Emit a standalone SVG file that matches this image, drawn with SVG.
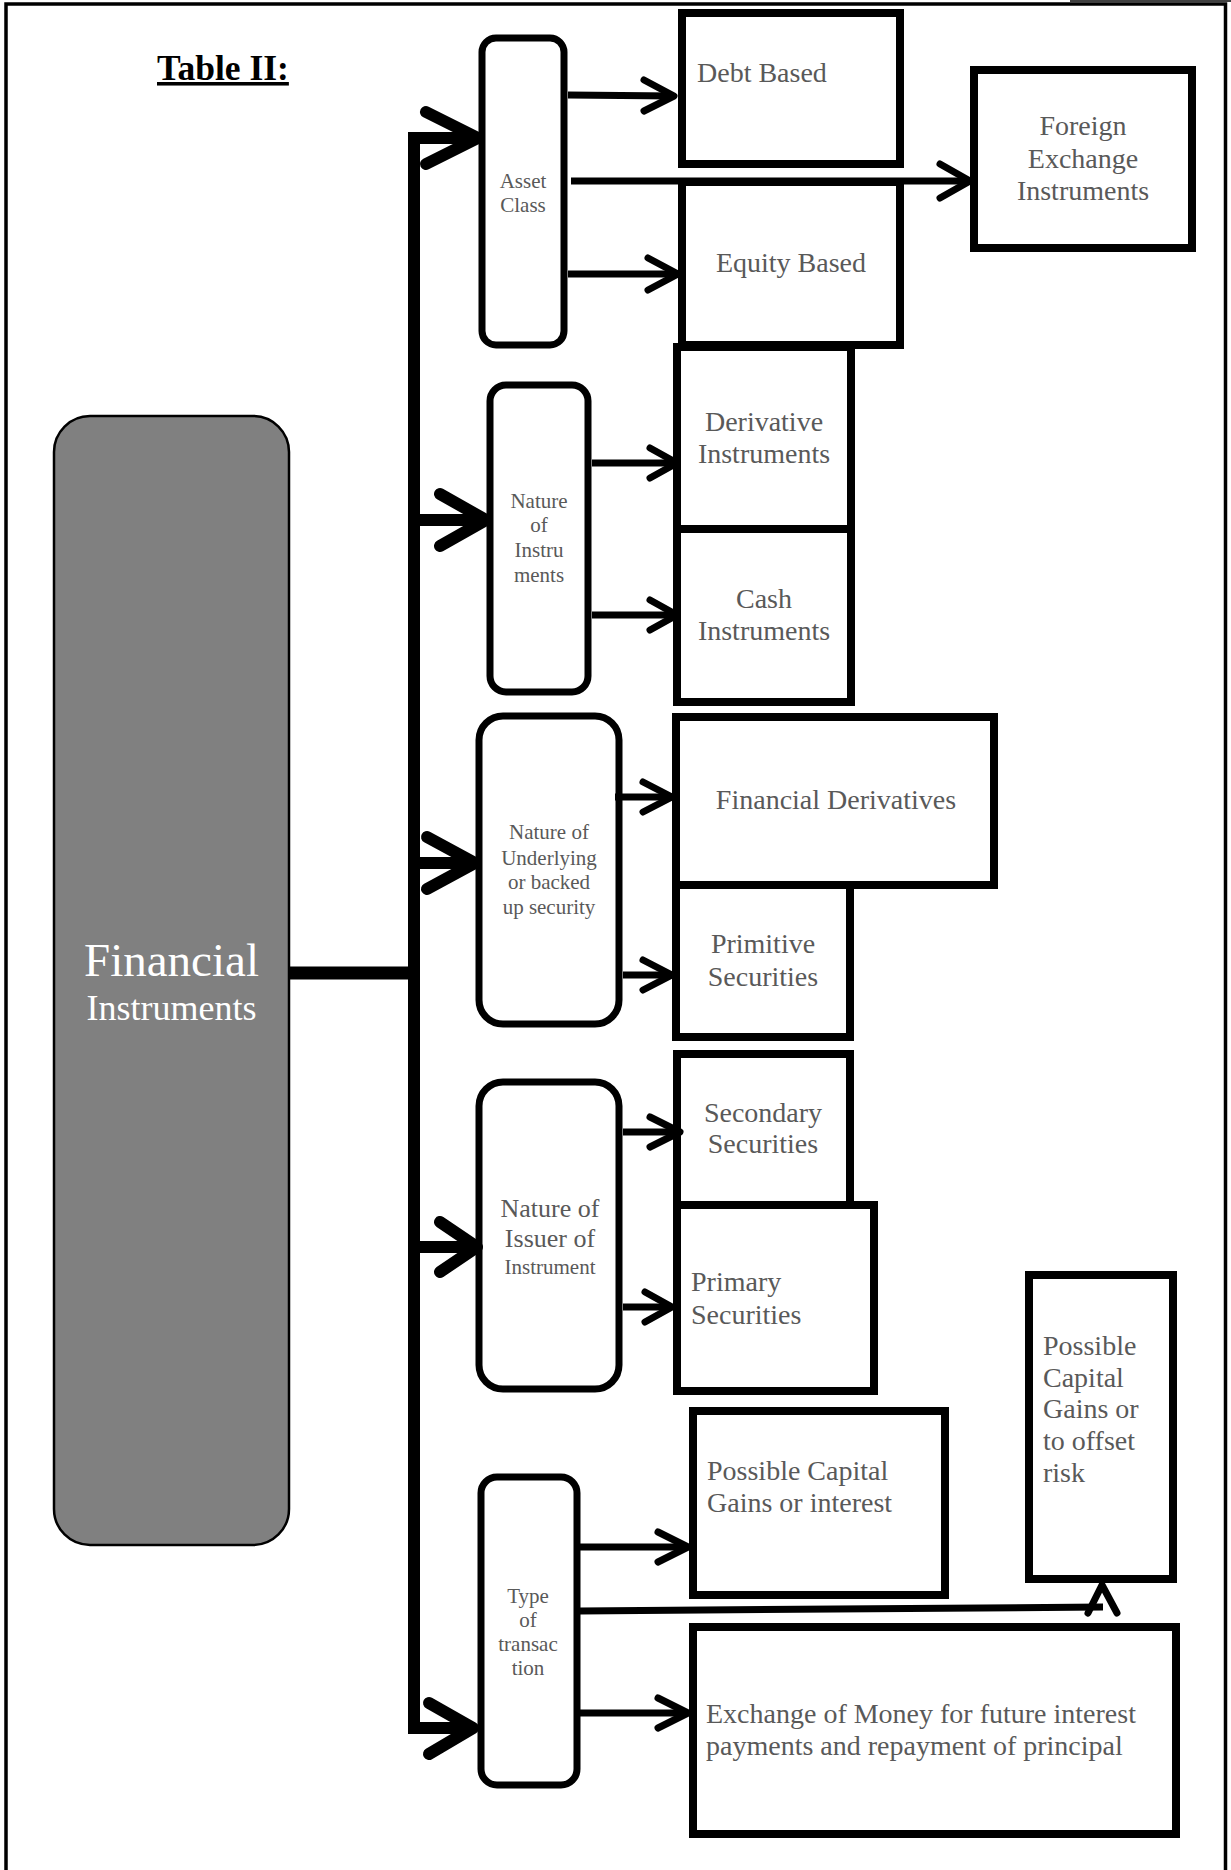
<svg xmlns="http://www.w3.org/2000/svg" width="1231" height="1870" viewBox="0 0 1231 1870">
<style>
.cat{fill:#fff;stroke:#000;stroke-width:7}
.leaf{fill:#fff;stroke:#000;stroke-width:8}
.lt{font-family:"Liberation Serif",serif;font-size:28px;fill:#595959}
.st{font-family:"Liberation Serif",serif;font-size:21px;fill:#595959}
.mid{text-anchor:middle}
.big{fill:none;stroke:#000;stroke-width:12;stroke-linecap:round;stroke-linejoin:round}
.sm{fill:none;stroke:#000;stroke-width:7;stroke-linecap:round;stroke-linejoin:round}
.ln{fill:none;stroke:#000;stroke-width:7}
</style>
<rect width="1231" height="1870" fill="#fff"/>
<g id="frame" fill="none" stroke="#000">
<path d="M6,1870 V4 H1225.5 V1870" stroke-width="3.5"/>
<line x1="1070" y1="1" x2="1231" y2="1" stroke-width="1.5"/>
</g>
<g id="title">
<text x="157" y="80" font-family="Liberation Serif,serif" font-size="35.5" font-weight="bold" text-decoration="underline" fill="#000">Table II:</text>
</g>
<g id="financial-instruments">
<rect x="54" y="416" width="235" height="1129" rx="36" fill="#808080" stroke="#000" stroke-width="2.5"/>
<text x="171.5" y="976" class="mid" font-family="Liberation Serif,serif" font-size="47" fill="#fff">Financial</text>
<text x="171.5" y="1020" class="mid" font-family="Liberation Serif,serif" font-size="36" fill="#fff">Instruments</text>
</g>
<g id="asset-class">
<rect class="cat" x="482" y="38" width="82" height="307" rx="14"/>
<text class="st mid" x="523" y="188">Asset</text>
<text class="st mid" x="523" y="212">Class</text>
</g>
<g id="nature-of-instruments">
<rect class="cat" x="490" y="385" width="98" height="307" rx="16"/>
<text class="st mid" x="539" y="508">Nature</text>
<text class="st mid" x="539" y="532">of</text>
<text class="st mid" x="539" y="557">Instru</text>
<text class="st mid" x="539" y="582">ments</text>
</g>
<g id="nature-of-underlying">
<rect class="cat" x="479" y="716" width="140" height="308" rx="24"/>
<text class="st mid" x="549" y="839">Nature of</text>
<text class="st mid" x="549" y="865">Underlying</text>
<text class="st mid" x="549" y="889">or backed</text>
<text class="st mid" x="549" y="914">up security</text>
</g>
<g id="nature-of-issuer">
<rect class="cat" x="479" y="1082" width="140" height="307" rx="24"/>
<text class="st mid" x="550" y="1217" style="font-size:26px">Nature of</text>
<text class="st mid" x="550" y="1247" style="font-size:26px">Issuer of</text>
<text class="st mid" x="550" y="1274">Instrument</text>
</g>
<g id="type-of-transaction">
<rect class="cat" x="481" y="1477" width="96" height="308" rx="16"/>
<text class="st mid" x="528" y="1603">Type</text>
<text class="st mid" x="528" y="1627">of</text>
<text class="st mid" x="528" y="1651">transac</text>
<text class="st mid" x="528" y="1675">tion</text>
</g>
<g id="debt-based">
<rect class="leaf" x="682" y="13" width="218" height="151"/>
<text class="lt" x="697" y="82">Debt Based</text>
</g>
<g id="equity-based">
<rect class="leaf" x="682" y="182" width="218" height="163"/>
<text class="lt mid" x="791" y="272">Equity Based</text>
</g>
<g id="foreign-exchange">
<rect class="leaf" x="974" y="70" width="218" height="178"/>
<text class="lt mid" x="1083" y="135">Foreign</text>
<text class="lt mid" x="1083" y="168">Exchange</text>
<text class="lt mid" x="1083" y="200">Instruments</text>
</g>
<g id="derivative-instruments">
<rect class="leaf" x="677" y="347" width="174" height="182"/>
<text class="lt mid" x="764" y="431">Derivative</text>
<text class="lt mid" x="764" y="463">Instruments</text>
</g>
<g id="cash-instruments">
<rect class="leaf" x="677" y="529" width="174" height="173"/>
<text class="lt mid" x="764" y="608">Cash</text>
<text class="lt mid" x="764" y="640">Instruments</text>
</g>
<g id="financial-derivatives">
<rect class="leaf" x="676" y="717" width="318" height="168"/>
<text class="lt mid" x="836" y="809">Financial Derivatives</text>
</g>
<g id="primitive-securities">
<rect class="leaf" x="676" y="885" width="174" height="152"/>
<text class="lt mid" x="763" y="953">Primitive</text>
<text class="lt mid" x="763" y="986">Securities</text>
</g>
<g id="secondary-securities">
<rect class="leaf" x="677" y="1054" width="173" height="151"/>
<text class="lt mid" x="763" y="1122">Secondary</text>
<text class="lt mid" x="763" y="1153">Securities</text>
</g>
<g id="primary-securities">
<rect class="leaf" x="677" y="1205" width="197" height="186"/>
<text class="lt" x="691" y="1291">Primary</text>
<text class="lt" x="691" y="1324">Securities</text>
</g>
<g id="capital-gains-interest">
<rect class="leaf" x="693" y="1411" width="252" height="184"/>
<text class="lt" x="707" y="1480">Possible Capital</text>
<text class="lt" x="707" y="1512">Gains or interest</text>
</g>
<g id="capital-gains-offset-risk">
<rect class="leaf" x="1029" y="1275" width="144" height="304"/>
<text class="lt" x="1043" y="1355">Possible</text>
<text class="lt" x="1043" y="1387">Capital</text>
<text class="lt" x="1043" y="1418">Gains or</text>
<text class="lt" x="1043" y="1450">to offset</text>
<text class="lt" x="1043" y="1482">risk</text>
</g>
<g id="exchange-of-money">
<rect class="leaf" x="693" y="1627" width="483" height="207"/>
<text class="lt" x="706" y="1723">Exchange of Money for future interest</text>
<text class="lt" x="706" y="1755">payments and repayment of principal</text>
</g>
<g id="connectors">
<line x1="289" y1="973" x2="414" y2="973" stroke="#000" stroke-width="13"/>
<path d="M474,138 H414 V1728 H470" fill="none" stroke="#000" stroke-width="12"/>
<line x1="414" y1="520" x2="484" y2="520" stroke="#000" stroke-width="12"/>
<line x1="414" y1="863" x2="473" y2="863" stroke="#000" stroke-width="12"/>
<line x1="414" y1="1247" x2="475" y2="1247" stroke="#000" stroke-width="12"/>
<polyline class="big" points="426,112 478,138 426,164"/>
<polyline class="big" points="440,494 486,520 440,546"/>
<polyline class="big" points="427,837 475,863 427,889"/>
<polyline class="big" points="440,1222 477,1247 440,1272"/>
<polyline class="big" points="429,1703 473,1728 429,1754"/>
<line class="ln" x1="568" y1="95" x2="674" y2="96"/>
<polyline class="sm" points="644,80 674,96 644,111"/>
<line class="ln" x1="571" y1="181" x2="970" y2="181"/>
<polyline class="sm" points="940,164 970,181 940,198"/>
<line class="ln" x1="568" y1="274" x2="678" y2="274"/>
<polyline class="sm" points="648,258 678,274 648,290"/>
<line class="ln" x1="592" y1="463" x2="677" y2="463"/>
<polyline class="sm" points="650,448 677,463 650,478"/>
<line class="ln" x1="592" y1="615" x2="677" y2="615"/>
<polyline class="sm" points="650,600 677,615 650,630"/>
<line class="ln" x1="615" y1="797" x2="672" y2="797"/>
<polyline class="sm" points="643,782 672,797 643,812"/>
<line class="ln" x1="623" y1="975" x2="672" y2="975"/>
<polyline class="sm" points="643,960 672,975 643,990"/>
<line class="ln" x1="623" y1="1132" x2="680" y2="1132"/>
<polyline class="sm" points="650,1117 680,1132 650,1147"/>
<line class="ln" x1="623" y1="1307" x2="672" y2="1307"/>
<polyline class="sm" points="645,1292 672,1307 645,1322"/>
<line class="ln" x1="580" y1="1547" x2="688" y2="1547"/>
<polyline class="sm" points="658,1532 688,1547 658,1562"/>
<line class="ln" x1="580" y1="1611" x2="1103" y2="1607"/>
<polyline class="sm" points="1088,1613 1102,1585 1117,1613"/>
<line class="ln" x1="580" y1="1713" x2="688" y2="1713"/>
<polyline class="sm" points="658,1698 688,1713 658,1728"/>
</g>
</svg>
